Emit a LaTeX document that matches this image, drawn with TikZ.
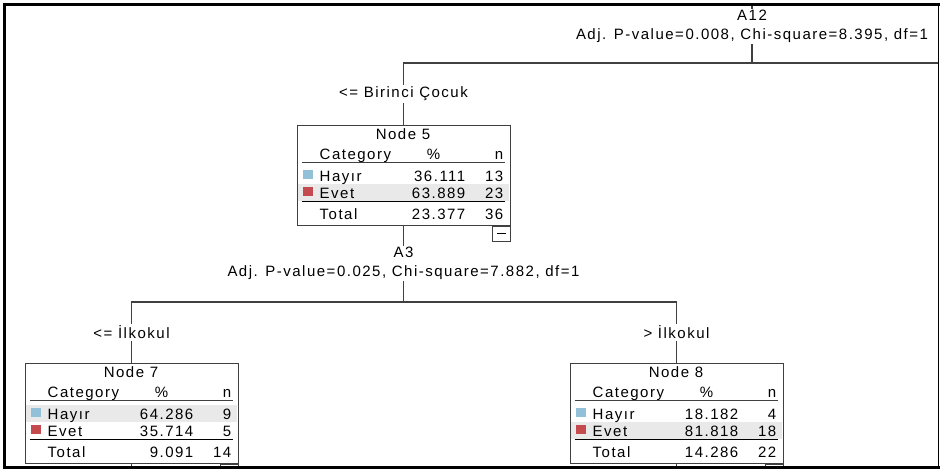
\documentclass[tikz,border=0pt]{standalone}
\usepackage{fontspec}
\setmainfont{Liberation Sans}[LetterSpace=10]
\usetikzlibrary{calc,positioning}

\definecolor{hayirblue}{RGB}{146,192,216}
\definecolor{evetred}{RGB}{196,74,80}
\definecolor{majgray}{RGB}{233,233,233}
\definecolor{treeline}{RGB}{64,64,64}

\newcommand{\spssfont}{\fontsize{15pt}{19pt}\selectfont}

% table inside a tree node: #1 box, #2 title, #3..#8 values, #9 gray row
\newcommand{\filltable}[9]{%
  \coordinate (#1-nw) at (#1.north west);
  \if h#9
    \fill[majgray] ($(#1-nw)+(1,-42.5)$) rectangle ($(#1-nw)+(212,-59.5)$);
  \else
    \fill[majgray] ($(#1-nw)+(1,-59.5)$) rectangle ($(#1-nw)+(212,-76.5)$);
  \fi
  \node (#1-title) [txt,anchor=base] at ($(#1-nw)+(106.5,-15)$) {#2};
  % header
  \node (#1-cat) [txt,anchor=base west] at ($(#1-nw)+(23,-35)$) {Category};
  \node (#1-pct) [txt,anchor=base] at ($(#1-nw)+(137,-35)$) {\%};
  \node (#1-n) [txt,anchor=base east] at ($(#1-nw)+(207,-35)$) {n};
  \draw[rowline] ($(#1-nw)+(5,-38)$) -- ($(#1-nw)+(208,-38)$);
  % Hayir
  \fill[hayirblue] ($(#1-nw)+(6,-45.5)$) rectangle ($(#1-nw)+(16,-54)$);
  \node (#1-hl) [txt,anchor=base west] at ($(#1-nw)+(23,-57)$) {Hayır};
  \node (#1-hp) [txt,anchor=base east] at ($(#1-nw)+(169,-57)$) {#3};
  \node (#1-hn) [txt,anchor=base east] at ($(#1-nw)+(207,-57)$) {#4};
  % Evet
  \fill[evetred] ($(#1-nw)+(6,-62.5)$) rectangle ($(#1-nw)+(16,-71)$);
  \node (#1-el) [txt,anchor=base west] at ($(#1-nw)+(23,-74)$) {Evet};
  \node (#1-ep) [txt,anchor=base east] at ($(#1-nw)+(169,-74)$) {#5};
  \node (#1-en) [txt,anchor=base east] at ($(#1-nw)+(207,-74)$) {#6};
  \draw[totline] ($(#1-nw)+(5,-77)$) -- ($(#1-nw)+(208,-77)$);
  % Total
  \node (#1-tl) [txt,anchor=base west] at ($(#1-nw)+(23,-94.5)$) {Total};
  \node (#1-tp) [txt,anchor=base east] at ($(#1-nw)+(169,-94.5)$) {#7};
  \node (#1-tn) [txt,anchor=base east] at ($(#1-nw)+(207,-94.5)$) {#8};
  % collapse box
  \node (#1-minus) [minusbox,anchor=north east] at (#1.south east) {};
  \draw ($(#1-minus.center)+(-4.5,0)$) -- ($(#1-minus.center)+(4.5,0)$);
}

\begin{document}
\begin{tikzpicture}[x=1pt,y=1pt,
    node font=\spssfont,
    text=black,
    txt/.style={inner sep=0pt},
    tbox/.style={draw=treeline, line width=1pt, minimum width=213pt,
      minimum height=100pt, inner sep=0pt},
    split/.style={align=center, fill=white, inner sep=1.5pt},
    elabel/.style={fill=white, text=black, inner sep=2pt},
    branch/.style={treeline, line width=1.4pt},
    rowline/.style={treeline, line width=1pt},
    totline/.style={black, line width=1.8pt},
    minusbox/.style={draw=treeline, fill=white, minimum width=18pt,
      minimum height=15pt, inner sep=0pt}]

  \useasboundingbox (0,0) rectangle (941,-471);

  \begin{scope}
  \clip (6,-6) rectangle (938,-466);

  % --- tree nodes ---
  \node (N5) [tbox] at (403.5,-175) {};
  \node (N7) [tbox] at (131.5,-413) {};
  \node (N8) [tbox] at (676.5,-413) {};

  \coordinate (T12) at (752,0);
  \coordinate (J12) at (752,-63);
  \coordinate (R12) at (950,-63);
  \coordinate (J3) at (403.5,-302);
  \coordinate (D7) at ($(N7.south)+(0,-20)$);
  \coordinate (D8) at ($(N8.south)+(0,-20)$);

  % --- connectors ---
  \draw[branch] (T12) -- (J12) -- (R12);
  \draw[branch] (J12) -| node[elabel,pos=0.75] {<= Birinci Çocuk} (N5.north);
  \draw[branch] (N5.south) -- (J3);
  \draw[branch] (J3) -| node[elabel,pos=0.75] {<= İlkokul} (N7.north);
  \draw[branch] (J3) -| node[elabel,pos=0.75] {> İlkokul} (N8.north);
  \draw[branch] (N7.south) -- (D7);
  \draw[branch] (N8.south) -- (D8);

  % --- split labels ---
  \node (A12) [split] at (752,-26.5)
        {A12\\Adj. P-value=0.008, Chi-square=8.395, df=1};
  \node (A3) [split] at (403.5,-263.5)
        {A3\\Adj. P-value=0.025, Chi-square=7.882, df=1};

  % --- tables ---
  \filltable{N5}{Node 5}{36.111}{13}{63.889}{23}{23.377}{36}{e}
  \filltable{N7}{Node 7}{64.286}{9}{35.714}{5}{9.091}{14}{h}
  \filltable{N8}{Node 8}{18.182}{4}{81.818}{18}{14.286}{22}{e}
  \end{scope}

  % frame
  \draw[line width=3.5pt] (940,-4.5) -- (4.5,-4.5) -- (4.5,-469);
  \draw[line width=3pt] (3,-467.5) -- (940,-467.5);
  \draw[line width=1.5pt] (938.5,-3) -- (938.5,-469);
\end{tikzpicture}
\end{document}
